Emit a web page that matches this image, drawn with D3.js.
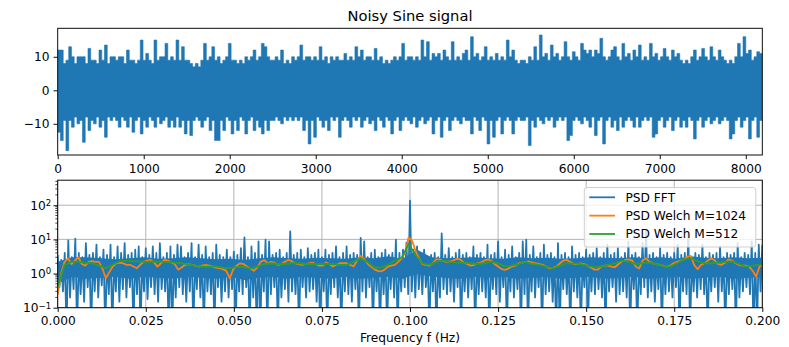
<!DOCTYPE html>
<html><head><meta charset="utf-8">
<script src="https://cdn.jsdelivr.net/npm/d3@7"></script>
<style>
body{margin:0;background:#fff}
text{font-family:"DejaVu Sans",sans-serif;fill:#000}
</style>
</head><body>
<svg id="c" width="789" height="347"></svg>
<script>
// ---------- data ----------
// Noisy sine signal: upper / lower extremes per block of 32 samples
const sigLength = 8192;
const sigBlock = 32;
const sigHi = [12,12,8,9,13,10,8,10,10,10, 8,12.5,9,9,8,12,9,13.5,8,10, 10,9,10,10,8,12,9,9,8,9,
 15,9,11,9,8,15,9,10,10,14, 9,10,9,15,9,13,9,9,8,7, 8,7,9,14,9,10,13,9,10,8,
 9,10,14,9,9,8,9,8,10,9, 10,12,9,10,14,13,10,9,9,10, 9,12,8,9,8,10,9,10,13.5,9,
 10,10,9,10,9,13,9,10,8,10, 9,10,9,9,11,9,10,9,13,10, 12,9,10,10,9,12.5,9,10,8,9,
 8,9,10,9,10,14,9,10,10,9, 10,9,15,10,14.5,9,11,10,11,9, 12,10,9,14.5,9,10,9,11,12,9,
 16,10,11,9,10,13,9,10,9,11, 9,10,9,15,10,12,9,8,9,9, 8,10,9,13,9,16.5,10,11,9,13.5,
 10,11,9,10,14.5,10,9,11.5,10,9, 14,12,11,12,10,12,11,15.5,10,9, 10,12,13,10,9,14,10,11,9,12,
 10,13.5,9,10,9,14,10,11,9,10, 12.5,10,9,12,10,11,9,8,9,8, 10,12,9,10,12.5,10,9,13,10,9,
 12,10,9,8,9,8,10,14,10,16, 11,12,9,10,11.5,11];
const sigLo = [-12.5,-15,-9,-18,-9,-11,-8,-10,-9,-15.5, -8,-12,-9,-10,-8,-11,-9,-14,-8,-9,
 -8,-9,-11,-8,-9,-11,-8,-12.5,-9,-8, -13,-9,-11,-8,-9,-11,-8,-10,-9,-8,
 -11,-9,-11,-8,-11,-9,-13,-9,-13.5,-9, -8,-9,-11,-9,-8,-12,-9,-15,-15,-9,
 -12,-8,-9,-13,-9,-12,-8,-9,-13,-9, -8,-12,-9,-11,-13,-9,-12,-9,-9,-8,
 -9,-10,-8,-9,-8,-9,-8,-9,-8,-12, -9,-16,-9,-14,-8,-9,-11,-9,-12,-8,
 -9,-8,-14,-9,-8,-9,-11,-8,-9,-8, -11,-9,-8,-10,-9,-12,-8,-9,-11,-8,
 -9,-13,-9,-8,-12,-9,-8,-9,-10,-8, -11,-9,-8,-10,-9,-8,-13,-9,-8,-14,
 -9,-8,-12,-9,-8,-9,-10,-8,-9,-9, -13,-8,-9,-12,-8,-9,-16,-9,-14,-9,
 -8,-13,-9,-8,-9,-13,-9,-8,-9,-9, -8,-16.5,-9,-11,-8,-9,-10,-8,-9,-8,
 -11,-9,-8,-9,-8,-15,-13.5,-9,-8,-9, -10,-8,-9,-11,-8,-13.5,-9,-8,-16,-9,
 -8,-11,-9,-12,-8,-11,-9,-8,-9,-11, -8,-11,-9,-8,-9,-8,-14,-13,-9,-8,
 -11,-9,-8,-12,-9,-8,-11,-9,-11,-8, -9,-14.5,-9,-8,-11,-9,-8,-10,-9,-8,
 -10,-9,-8,-9,-14.5,-13,-9,-8,-11,-9, -8,-14.5,-9,-8,-14,-9];

// PSD FFT: upper / lower extremes per 0.001 Hz bin
const psdStep = 0.001;
const psdHi = [3.5,2.5,4,9.3,3,10.5,4,3,7.8,3.5, 4,7,3,5,3.5,7,3,6.2,4,7.8,
 3.5,4,5,6.2,3,5.5,3.5,6.2,4,7.8, 3,4,6.2,3.5,7,6.2,3,4,7.8,3,
 7,3.5,6.2,3,4,7,3.5,3,5,3, 4.4,3.5,5.5,11.5,3,6.2,4,8.7,3.5,9.8,
 8.7,3.5,4,5,3,4,17,3.5,4,5, 3,5.5,3.5,4,5,3,5,3.5,4,6.2,
 3,4,6.2,3.5,4,3.5,11,8.7,3,4, 5,3,4,5,3.5,4,9.8,4,5,8,
 137,5,6.2,3.5,5,3,3.5,4,3,15, 3.5,5.5,3,4,5,3.5,4,3,6.2,3.5,
 4,3,7,3.5,4,8.7,3,5,3.5,6.2, 3,4,8.7,9.8,3.5,6.2,3,4,7,3.5,
 4,3,7.8,3.5,4,3,6.2,3.5,4,3, 5,3.5,4,5.5,3,4,7,3.5,4,5.5,
 3,4,8.7,3.5,4,3,7.8,17,3.5,4, 3,5.5,3.5,4,3,4,7,3.5,4,15,
 3,4,3.5,7,3,4,3.5,4,6.2,3, 4,3.5,4,7.8,3,4,3.5,8.7,4,7];
const psdLo = [0.4,0.3,0.02,0.2,0.35,0.02,0.25,0.15,0.4,0.02, 0.3,0.2,0.45,0.02,0.25,0.02,0.3,0.15,0.35,0.2,
 0.4,0.02,0.25,0.02,0.3,0.18,0.4,0.25,0.15,0.35, 0.3,0.02,0.02,0.2,0.4,0.25,0.15,0.3,0.02,0.35,
 0.2,0.02,0.3,0.25,0.02,0.4,0.15,0.3,0.2,0.35, 0.02,0.3,0.25,0.4,0.02,0.2,0.02,0.02,0.3,0.02,
 0.25,0.4,0.02,0.2,0.35,0.15,0.3,0.25,0.02,0.4, 0.2,0.3,0.35,0.15,0.02,0.3,0.02,0.25,0.4,0.2,
 0.02,0.3,0.25,0.15,0.35,0.02,0.3,0.2,0.4,0.02, 0.3,0.02,0.25,0.02,0.35,0.2,0.02,0.3,0.4,0.25,
 0.3,0.2,0.35,0.25,0.4,0.02,0.3,0.02,0.2,0.35, 0.25,0.3,0.15,0.4,0.02,0.3,0.2,0.35,0.02,0.25,
 0.3,0.2,0.02,0.35,0.25,0.15,0.4,0.02,0.3,0.2, 0.35,0.02,0.25,0.02,0.3,0.2,0.4,0.02,0.25,0.3,
 0.15,0.02,0.02,0.35,0.25,0.02,0.3,0.2,0.02,0.4, 0.02,0.3,0.25,0.35,0.2,0.02,0.3,0.4,0.15,0.25,
 0.3,0.2,0.02,0.35,0.02,0.25,0.4,0.2,0.3,0.15, 0.35,0.02,0.25,0.3,0.2,0.4,0.02,0.3,0.25,0.02,
 0.3,0.2,0.35,0.25,0.02,0.3,0.4,0.15,0.3,0.02, 0.25,0.35,0.02,0.2,0.3,0.4,0.25,0.02,0.02,0.3];
// solid band of the PSD (coarse, evenly spaced over 0..0.2 Hz)
const psdBandHi = [2.2,3,3,2.8,2.6,2.8,3,2.7,2.8,3, 2.8,2.6,2.7,2.5,2.8,3,2.8,2.7,2.9,2.8,
 2.7,3,2.8,3.2,2.7,5,3,2.8,2.9,3, 2.8,2.7,3,2.8,2.9,2.7,2.8,3,2.9,2.8,
 3,2.8,3,2.7,3.2,2.9,2.8,3,2.8,2.9];
const psdBandLo = [0.5,0.8,0.7,0.75,0.8,0.7,0.8,0.75,0.7,0.8, 0.75,0.7,0.8,0.65,0.75,0.8,0.7,0.8,0.75,0.7,
 0.8,0.7,0.75,0.8,0.7,1.0,0.8,0.75,0.7,0.8, 0.75,0.8,0.7,0.75,0.8,0.7,0.75,0.8,0.7,0.75,
 0.8,0.7,0.75,0.8,0.7,0.75,0.8,0.7,0.75,0.8];

// Welch PSD, M=1024 (f = k/1024) and M=512 (f = k/512)
const welch1024 = [0.24,1.0,2.2,2.8,1.9,2.4,3.0,1.9,1.7,2.2, 2.3,2.2,2.2,1.4,0.73,1.1,1.6,2.0,2.1,2.0,
 1.8,1.8,1.6,1.43,1.8,2.25,2.4,2.5,2.1,1.6, 2.0,2.5,2.4,2.1,1.9,1.3,1.5,1.8,1.9,1.8,
 1.7,1.6,1.7,1.8,1.7,1.6,1.5,1.43,1.35,1.2, 0.73,1.3,1.7,2.0,1.9,1.6,1.4,1.2,1.5,2.2,
 2.5,2.0,2.2,2.1,1.8,1.9,2.2,2.5,2.3,2.0, 1.9,1.8,1.9,2.0,2.1,1.9,1.7,1.7,2.1,1.9,
 1.6,1.8,2.0,2.0,2.0,1.8,1.6,2.4,3.3,2.7, 2.0,1.6,1.35,1.2,1.15,1.3,1.6,1.7,1.8,2.2,
 2.8,4.1,11.5,9.1,4.7,2.8,1.9,1.8,1.7,2.0, 2.6,2.6,2.3,2.2,2.25,2.4,2.7,2.6,2.1,1.9,
 1.7,1.8,2.0,2.1,2.4,2.6,2.4,1.9,1.6,1.35, 1.28,1.4,1.6,1.7,2.0,2.1,2.2,2.25,2.1,2.0,
 1.9,1.8,1.6,1.43,1.5,1.6,2.0,2.4,2.5,2.2, 1.9,1.9,2.0,1.9,1.7,1.5,1.3,1.3,1.6,1.7,
 1.7,1.6,1.55,1.9,2.25,2.5,2.6,2.4,1.6,1.4, 2.4,2.8,2.2,2.0,1.9,1.8,1.7,1.6,1.7,2.0,
 2.2,2.4,2.6,3.1,3.3,1.8,1.34,1.8,2.0,2.4, 2.8,2.4,1.9,1.8,2.1,2.6,2.4,2.0,1.8,1.7,
 1.7,1.6,1.2,0.82,1.6,1.8];
const welch512 = [0.42,1.8,2.2,2.2,2.1,2.0,1.7,1.45,1.8,2.3, 2.4,2.3,2.25,2.2,2.25,2.2,2.2,2.1,2.0,1.85,
 1.7,1.6,1.6,1.6,1.5,1.43,1.55,1.6,1.4,1.6, 1.9,2.0,1.9,1.9,2.0,2.0,1.9,1.9,1.9,1.9,
 1.9,1.8,1.8,2.2,2.8,2.2,1.5,1.5,1.8,2.4, 2.9,7.4,3.5,2.0,1.8,2.2,2.4,2.2,2.1,2.1,
 2.0,1.9,2.0,2.25,2.0,1.6,1.7,1.9,2.2,1.9, 1.8,1.6,1.43,1.7,2.0,1.95,1.9,1.7,1.55,1.6,
 1.8,2.0,2.4,2.2,1.9,2.0,2.1,1.9,1.7,1.6, 2.0,2.6,2.8,2.3,2.0,2.0,2.1,2.2,2.25,1.9,
 1.6,1.7,1.8,1.9];

const topXTicks = [0,1000,2000,3000,4000,5000,6000,7000,8000];
const topYTicks = [-10,0,10];
const botXTicks = [0,0.025,0.05,0.075,0.1,0.125,0.15,0.175,0.2];
const botYTicks = [0.1,1,10,100];
const botYExp = ["\u22121","0","1","2"];
const legendLabels = ["PSD FFT","PSD Welch M=1024","PSD Welch M=512"];
const colors = ["#1f77b4","#ff7f0e","#2ca02c"];
const titleText = "Noisy Sine signal";
const xLabelText = "Frequency f (Hz)";

// ---------- layout ----------
const svg = d3.select("#c");
const L = 57.7, R = 762.3;
const top1 = 28.3, bot1 = 155, top2 = 180.2, bot2 = 307.7;
const fs = 12.2, lw = 1.8, spw = 0.95, tickLen = 4.2;

const xTop = d3.scaleLinear().domain([0, sigLength]).range([L, R]);
const yTop = d3.scaleLinear().domain([-19.3, 18.5]).range([bot1, top1]);
const xBot = d3.scaleLinear().domain([0, 0.2]).range([L, R]);
const yBot = d3.scaleLog().domain([0.1, 540]).range([bot2, top2]);

const defs = svg.append("defs");
defs.append("clipPath").attr("id","clipTop").append("rect")
  .attr("x",L).attr("y",top1).attr("width",R-L).attr("height",bot1-top1);
defs.append("clipPath").attr("id","clipBot").append("rect")
  .attr("x",L).attr("y",top2).attr("width",R-L).attr("height",bot2-top2);

// ---------- top: signal (dense trace drawn as per-block min/max skyline) ----------
const plotTop = svg.append("g").attr("clip-path","url(#clipTop)");
const sigBlocks = sigHi.map((h,k)=>[k*sigBlock, h, sigLo[k]]);
sigBlocks.push([sigLength, sigHi[sigHi.length-1], sigLo[sigLo.length-1]]);
plotTop.append("path").datum(sigBlocks)
  .attr("d", d3.area().curve(d3.curveStepAfter).x(d=>xTop(d[0])).y0(d=>yTop(d[2])).y1(d=>yTop(d[1])))
  .attr("fill",colors[0]).attr("stroke",colors[0]).attr("stroke-width",0.6);

function styleAxis(g){
  g.select(".domain").remove();
  g.selectAll(".tick line").attr("stroke","#000").attr("stroke-width",spw);
  g.selectAll(".tick text").attr("font-size",fs).attr("fill","#000")
    .style("font-family","'DejaVu Sans',sans-serif");
}
svg.append("g").attr("transform",`translate(0,${bot1})`)
  .call(d3.axisBottom(xTop).tickValues(topXTicks).tickSize(tickLen).tickPadding(4.9).tickFormat(d3.format("d")))
  .call(styleAxis);
svg.append("g").attr("transform",`translate(${L},0)`)
  .call(d3.axisLeft(yTop).tickValues(topYTicks).tickSize(tickLen).tickPadding(4.0)
    .tickFormat(d=> d<0 ? "\u2212"+Math.abs(d) : String(d)))
  .call(styleAxis);
svg.append("rect").attr("x",L).attr("y",top1).attr("width",R-L).attr("height",bot1-top1)
  .attr("fill","none").attr("stroke","#000").attr("stroke-width",spw);

svg.append("text").attr("x",(L+R)/2).attr("y",20.8).attr("text-anchor","middle")
  .attr("font-size",14.7).text(titleText);

// ---------- bottom: PSD ----------
const gridG = svg.append("g");
gridG.selectAll("line.gx").data(botXTicks).join("line")
  .attr("x1",d=>xBot(d)).attr("x2",d=>xBot(d)).attr("y1",top2).attr("y2",bot2)
  .attr("stroke","#b0b0b0").attr("stroke-width",spw);
gridG.selectAll("line.gy").data(botYTicks).join("line")
  .attr("y1",d=>yBot(d)).attr("y2",d=>yBot(d)).attr("x1",L).attr("x2",R)
  .attr("stroke","#b0b0b0").attr("stroke-width",spw);

const plotBot = svg.append("g").attr("clip-path","url(#clipBot)");
const bandX = i => i * 0.2 / (psdBandHi.length - 1);
plotBot.append("path").datum(psdBandHi.map((h,i)=>[bandX(i), h, psdBandLo[i]]))
  .attr("d", d3.area().x(d=>xBot(d[0])).y0(d=>yBot(d[2])).y1(d=>yBot(d[1])))
  .attr("fill",colors[0]);
const psdPts = [];
psdHi.forEach((h,b)=>{
  psdPts.push([b*psdStep, h]);
  psdPts.push([(b+0.5)*psdStep, psdLo[b]]);
});
psdPts.push([0.2, psdHi[psdHi.length-1]]);
const lineBot = d3.line().x(d=>xBot(d[0])).y(d=>yBot(d[1]));
plotBot.append("path").datum(psdPts).attr("d",lineBot).attr("fill","none")
  .attr("stroke",colors[0]).attr("stroke-width",lw).attr("stroke-linejoin","round");
plotBot.append("path").datum(welch1024.map((v,k)=>[k/1024, v])).attr("d",lineBot)
  .attr("fill","none").attr("stroke",colors[1]).attr("stroke-width",lw).attr("stroke-linejoin","round");
plotBot.append("path").datum(welch512.map((v,k)=>[k/512, v])).attr("d",lineBot)
  .attr("fill","none").attr("stroke",colors[2]).attr("stroke-width",lw).attr("stroke-linejoin","round");

svg.append("g").attr("transform",`translate(0,${bot2})`)
  .call(d3.axisBottom(xBot).tickValues(botXTicks).tickSize(tickLen).tickPadding(4.9).tickFormat(d3.format(".3f")))
  .call(styleAxis);
const yAx = svg.append("g").attr("transform",`translate(${L},0)`)
  .call(d3.axisLeft(yBot).tickValues(botYTicks).tickSize(tickLen).tickPadding(2.4).tickFormat(()=>"10"))
  .call(styleAxis);
yAx.selectAll(".tick text").each(function(d,i){
  d3.select(this).append("tspan").attr("dy","-0.42em").attr("font-size",fs*0.7).text(botYExp[i]);
});
const minorVals = [];
[0.1,1,10,100].forEach(dec=>{ for(let m=2;m<=9;m++){ const v=dec*m; if(v<=540) minorVals.push(v);} });
svg.append("g").selectAll("line").data(minorVals).join("line")
  .attr("x1",L-2.4).attr("x2",L).attr("y1",d=>yBot(d)).attr("y2",d=>yBot(d))
  .attr("stroke","#000").attr("stroke-width",0.7);

svg.append("rect").attr("x",L).attr("y",top2).attr("width",R-L).attr("height",bot2-top2)
  .attr("fill","none").attr("stroke","#000").attr("stroke-width",spw);

svg.append("text").attr("x",(L+R)/2).attr("y",342.2).attr("text-anchor","middle")
  .attr("font-size",fs).text(xLabelText);

// legend
const lg = svg.append("g");
lg.append("rect").attr("x",584.3).attr("y",187.5).attr("width",171.5).attr("height",59.5)
  .attr("rx",2.5).attr("fill","#fff").attr("fill-opacity",0.8)
  .attr("stroke","#cccccc").attr("stroke-width",spw);
const rowY = d3.scaleLinear().domain([0,2]).range([197.3,234]);
legendLabels.forEach((lab,i)=>{
  lg.append("line").attr("x1",589.3).attr("x2",615).attr("y1",rowY(i)).attr("y2",rowY(i))
    .attr("stroke",colors[i]).attr("stroke-width",lw);
  lg.append("text").attr("x",625.5).attr("y",rowY(i)+4.4).attr("font-size",fs).text(lab);
});
</script>
</body></html>
